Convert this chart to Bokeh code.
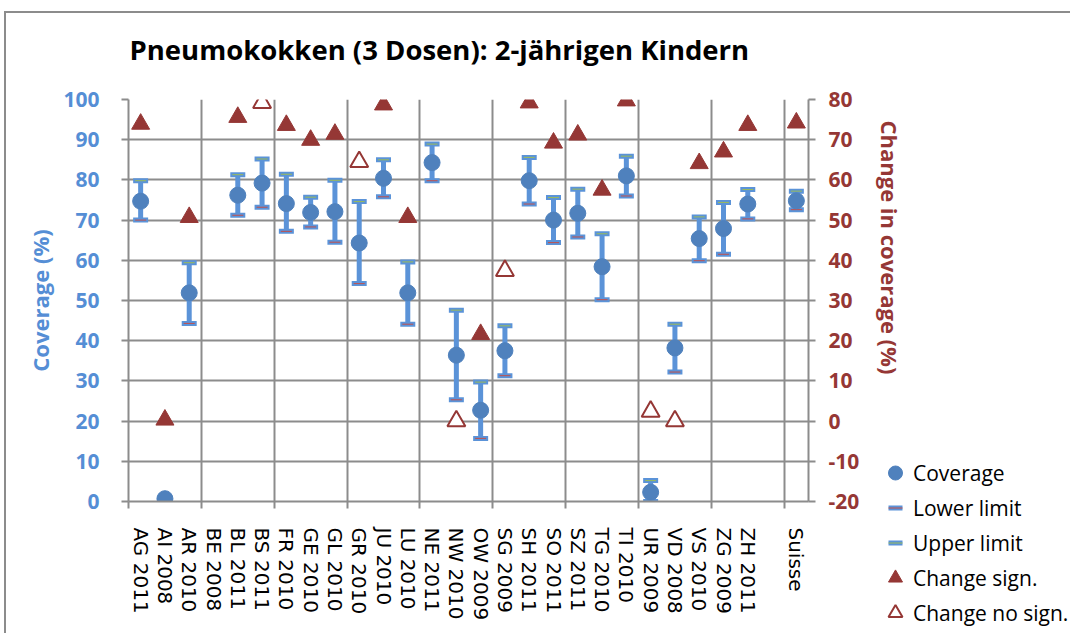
from bokeh.plotting import figure
from bokeh.layouts import row
from bokeh.models import (Range1d, LinearAxis, FixedTicker, Legend, LegendItem,
                          ColumnDataSource, Grid, Title, Div)
from bokeh.embed import file_html
from bokeh.resources import INLINE

NaN = float("nan")

# ---- data ----
cantons = ["AG 2011", "AI 2008", "AR 2010", "BE 2008", "BL 2011", "BS 2011",
           "FR 2010", "GE 2010", "GL 2010", "GR 2010", "JU 2010", "LU 2010",
           "NE 2011", "NW 2010", "OW 2009", "SG 2009", "SH 2011", "SO 2011",
           "SZ 2011", "TG 2010", "TI 2010", "UR 2009", "VD 2008", "VS 2010",
           "ZG 2009", "ZH 2011", "", "Suisse"]
coverage = [74.7, 0.7, 51.9, NaN, 76.2, 79.2, 74.1, 71.9, 72.1, 64.3, 80.4, 51.9,
            84.3, 36.4, 22.7, 37.5, 79.8, 70.0, 71.7, 58.4, 81.0, 2.3, 38.2, 65.4,
            67.9, 74.0, NaN, 74.8]
lower_limit = [70.0, 0.0, 44.3, NaN, 71.2, 73.2, 67.2, 68.3, 64.5, 54.2, 75.8, 44.1,
               79.8, 25.3, 15.7, 31.3, 74.0, 64.4, 65.8, 50.2, 76.0, 0.0, 32.2, 59.9,
               61.5, 70.3, NaN, 72.6]
upper_limit = [79.8, 0.3, 59.4, NaN, 81.3, 85.2, 81.4, 75.7, 79.9, 74.6, 85.0, 59.6,
               88.9, 47.6, 29.7, 43.7, 85.6, 75.6, 77.7, 66.6, 85.9, 5.2, 44.1, 70.8,
               74.4, 77.6, NaN, 77.2]
change_sign = [73.9, 0.3, 50.7, NaN, 75.6, NaN, 73.6, 69.9, 71.4, NaN, 78.7, 50.7,
               NaN, NaN, 21.6, NaN, 79.2, 69.2, 71.2, 57.5, 79.7, NaN, NaN, 64.1,
               67.0, 73.6, NaN, 74.2]
change_nosign = [NaN, NaN, NaN, NaN, NaN, 79.2, NaN, NaN, NaN, 64.5, NaN, NaN,
                 NaN, 0.0, NaN, 37.4, NaN, NaN, NaN, NaN, NaN, 2.4, 0.0, NaN,
                 NaN, NaN, NaN, NaN]
left_ticks = list(range(0, 101, 10))
right_ticks = list(range(-20, 81, 10))
legend_labels = ["Coverage", "Lower limit", "Upper limit", "Change sign.",
                 "Change no sign."]

# ---- styles ----
BLUE_TXT = "#558ED5"
BLUE_PT = "#4F81BD"
BLUE_BAR = "#5B93D8"
RED = "#953735"
LOW_RED = "#C0504D"
UP_GREEN = "#9BBB59"
GRID = "#8C8C8C"
FONT = "Open Sans"
W, H = 1070, 633

N = len(cantons)
idx = list(range(N))
src = ColumnDataSource(dict(x=idx, cov=coverage, lo=lower_limit, hi=upper_limit,
                            cs=change_sign, cn=change_nosign))

p = figure(width=W, height=H, output_backend="svg", toolbar_location=None,
           x_range=Range1d(-0.5, N - 0.5), y_range=Range1d(left_ticks[0], left_ticks[-1]),
           min_border_left=128, min_border_right=262, min_border_top=99,
           min_border_bottom=132, x_axis_type=None, y_axis_type=None)
p.extra_y_ranges = {"chg": Range1d(right_ticks[0], right_ticks[-1])}
p.outline_line_color = None

p.title.text = "Pneumokokken (3 Dosen): 2-jährigen Kindern"
p.title.text_font = FONT
p.title.text_font_style = "bold"
p.title.text_font_size = "27.5px"
p.title.text_color = "black"
p.title.align = "left"
p.title.offset = 1
p.title.vertical_align = "top"
p.title.standoff = 59

# x axis
bounds = [k - 0.5 for k in range(0, N + 1, 3)]
xaxis = LinearAxis(ticker=FixedTicker(ticks=idx, minor_ticks=bounds))
xaxis.major_label_overrides = {i: c for i, c in enumerate(cantons)}
xaxis.major_label_orientation = "vertical"
xaxis.major_label_text_font = "DejaVu Sans"
xaxis.major_label_text_font_size = "20px"
xaxis.major_label_text_color = "black"
xaxis.major_tick_line_color = None
xaxis.major_tick_out = 7
xaxis.major_tick_in = 0
xaxis.minor_tick_line_color = GRID
xaxis.minor_tick_line_width = 2
xaxis.minor_tick_out = 7
xaxis.minor_tick_in = 0
xaxis.major_label_standoff = 19
xaxis.axis_line_color = GRID
xaxis.axis_line_width = 2
p.add_layout(xaxis, "below")

# left axis
yaxis = LinearAxis(ticker=FixedTicker(ticks=left_ticks))
yaxis.axis_label = "Coverage (%)"
yaxis.axis_label_text_font = FONT
yaxis.axis_label_text_font_style = "bold"
yaxis.axis_label_text_font_size = "22px"
yaxis.axis_label_text_color = BLUE_TXT
yaxis.axis_label_standoff = 5
yaxis.major_label_text_font = FONT
yaxis.major_label_text_font_style = "bold"
yaxis.major_label_text_font_size = "21px"
yaxis.major_label_text_color = BLUE_TXT
yaxis.major_label_standoff = 22
yaxis.major_tick_out = 7
yaxis.major_tick_in = 0
yaxis.major_tick_line_color = GRID
yaxis.major_tick_line_width = 2
yaxis.minor_tick_line_color = None
yaxis.axis_line_color = GRID
yaxis.axis_line_width = 2
p.add_layout(yaxis, "left")

# right axis
raxis = LinearAxis(y_range_name="chg", ticker=FixedTicker(ticks=right_ticks))
raxis.major_label_overrides = {t: str(t) for t in right_ticks}
raxis.major_label_text_font = FONT
raxis.major_label_text_font_style = "bold"
raxis.major_label_text_font_size = "21px"
raxis.major_label_text_color = RED
raxis.major_label_standoff = 13
raxis.major_tick_out = 7
raxis.major_tick_in = 0
raxis.major_tick_line_color = GRID
raxis.major_tick_line_width = 2
raxis.minor_tick_line_color = None
raxis.axis_line_color = GRID
raxis.axis_line_width = 2
p.add_layout(raxis, "right")
rtitle = Title(text="Change in coverage (%)", align="left", offset=21, standoff=25,
               text_font=FONT, text_font_style="bold", text_font_size="22px",
               text_color=RED)
p.add_layout(rtitle, "right")

# grids
p.add_layout(Grid(dimension=0, ticker=FixedTicker(ticks=bounds), grid_line_color=GRID,
                  grid_line_width=2))
p.add_layout(Grid(dimension=1, ticker=FixedTicker(ticks=left_ticks),
                  grid_line_color=GRID, grid_line_width=2))

# error bars, points, change markers
p.segment(x0="x", y0="lo", x1="x", y1="hi", source=src, line_color=BLUE_BAR,
          line_width=5)
p.scatter(x="x", y="lo", source=src, marker="dash", size=15, line_color=BLUE_BAR,
          line_width=5)
p.scatter(x="x", y="lo", source=src, marker="dash", size=11, line_color=LOW_RED,
          line_width=1)
p.scatter(x="x", y="hi", source=src, marker="dash", size=15, line_color=BLUE_BAR,
          line_width=5)
p.scatter(x="x", y="hi", source=src, marker="dash", size=11, line_color=UP_GREEN,
          line_width=1)
p.scatter(x="x", y="cov", source=src, marker="circle", size=16, fill_color=BLUE_PT,
          line_color=BLUE_PT)
p.scatter(x="x", y="cs", source=src, marker="triangle", size=18, fill_color=RED,
          line_color=RED, y_range_name="chg")
p.scatter(x="x", y="cn", source=src, marker="triangle", size=18, fill_color="white",
          line_color=RED, line_width=2, y_range_name="chg")

# ---- legend figure, a separate root placed over the lower right corner ----
LW, LH = 192, 176
lp = figure(width=LW, height=LH, output_backend="svg", toolbar_location=None,
            x_axis_type=None, y_axis_type=None, min_border=0,
            x_range=Range1d(0, 1), y_range=Range1d(0, 1))
lp.outline_line_color = None
lp.background_fill_alpha = 0
lp.border_fill_alpha = 0
lp.grid.visible = False
lp.styles = {"position": "absolute", "left": "877px", "top": "455px"}
g_cov = lp.scatter(x="x", y="cov", source=src, marker="circle", fill_color=BLUE_PT,
                   line_color=BLUE_PT, visible=False)
g_lo1 = lp.scatter(x="x", y="lo", source=src, marker="dash", line_color=BLUE_BAR,
                   line_width=5, visible=False)
g_lo2 = lp.scatter(x="x", y="lo", source=src, marker="dash", line_color=LOW_RED,
                   line_width=1, visible=False)
g_up1 = lp.scatter(x="x", y="hi", source=src, marker="dash", line_color=BLUE_BAR,
                   line_width=5, visible=False)
g_up2 = lp.scatter(x="x", y="hi", source=src, marker="dash", line_color=UP_GREEN,
                   line_width=1, visible=False)
g_cs = lp.scatter(x="x", y="cs", source=src, marker="triangle", fill_color=RED,
                  line_color=RED, visible=False)
g_cn = lp.scatter(x="x", y="cn", source=src, marker="triangle", fill_color="white",
                  line_color=RED, line_width=2, visible=False)
legend = Legend(items=[
    LegendItem(label=legend_labels[0], renderers=[g_cov]),
    LegendItem(label=legend_labels[1], renderers=[g_lo1, g_lo2]),
    LegendItem(label=legend_labels[2], renderers=[g_up1, g_up2]),
    LegendItem(label=legend_labels[3], renderers=[g_cs]),
    LegendItem(label=legend_labels[4], renderers=[g_cn]),
], location="top_left")
legend.label_text_font = FONT
legend.label_text_font_size = "21px"
legend.label_text_color = "black"
legend.glyph_width = 36
legend.glyph_height = 35
legend.label_height = 20
legend.spacing = 0
legend.padding = 0
legend.margin = 0
legend.label_standoff = -7
legend.border_line_color = None
legend.background_fill_alpha = 0
lp.add_layout(legend)

# outer chart border (left and top edges visible in the reference)
border = Div(width=W - 4, height=H - 11, margin=(11, 0, 0, -(W - 4)),
             styles={"border-left": "2px solid #8C8C8C",
                     "border-top": "2px solid #8C8C8C",
                     "box-sizing": "border-box"})

layout = row(p, border)
open("out.html", "w").write(file_html([layout, lp], INLINE))
